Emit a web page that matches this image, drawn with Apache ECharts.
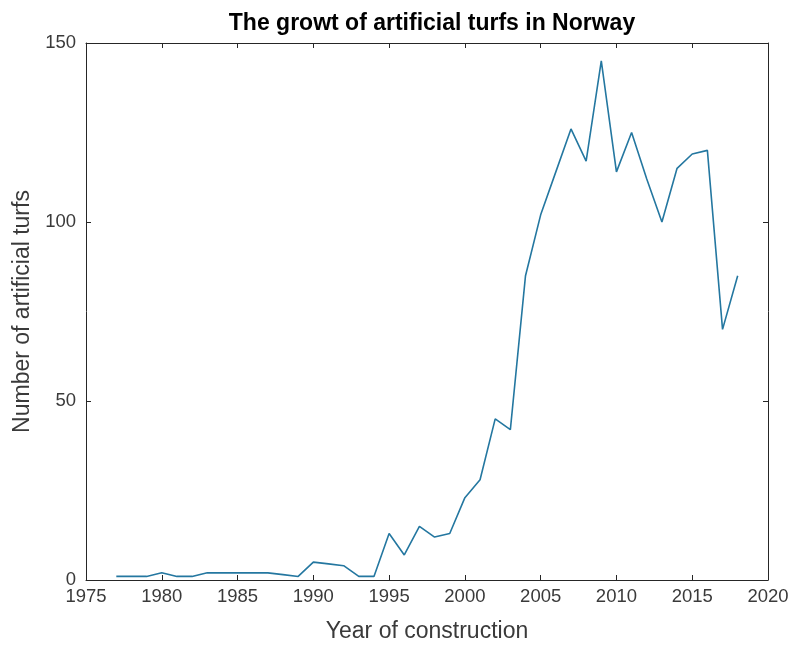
<!DOCTYPE html>
<html>
<head>
<meta charset="utf-8">
<script src="https://cdn.jsdelivr.net/npm/echarts@6/dist/echarts.min.js"></script>
<style>
  html, body { margin: 0; padding: 0; background: #fff; }
  #chart { width: 792px; height: 648px; }
</style>
</head>
<body>
<div id="chart"></div>
<script>
// Artificial turfs built per year in Norway
const years = [
  1977, 1978, 1979, 1980, 1981, 1982, 1983, 1984, 1985, 1986,
  1987, 1988, 1989, 1990, 1991, 1992, 1993, 1994, 1995, 1996,
  1997, 1998, 1999, 2000, 2001, 2002, 2003, 2004, 2005, 2006,
  2007, 2008, 2009, 2010, 2011, 2012, 2013, 2014, 2015, 2016,
  2017, 2018
];
const turfs = [
  1, 1, 1, 2, 1, 1, 2, 2, 2, 2,
  2, 1.5, 1, 5, 4.5, 4, 1, 1, 13, 7,
  15, 12, 13, 23, 28, 45, 42, 85, 102, 114,
  126, 117, 145, 114, 125, 112, 100, 115, 119, 120,
  70, 85
];
const xTicks = { min: 1975, max: 2020, step: 5 };
const yTicks = { min: 0, max: 150, step: 50 };

const font = '"Liberation Sans", Arial, Helvetica, sans-serif';
const frame = '#262626';
const labelColor = '#3a3a3a';

const chart = echarts.init(document.getElementById('chart'), null, { renderer: 'canvas' });

// Box-style axis: line plus inward ticks, used on all four sides
const boxAxis = (extra) => Object.assign({
  type: 'value',
  axisLine: { show: true, onZero: false, lineStyle: { color: frame, width: 1 } },
  axisTick: { show: true, inside: true, length: 5, lineStyle: { color: frame, width: 1 } },
  splitLine: { show: false }
}, extra);

chart.setOption({
  animation: false,
  backgroundColor: '#ffffff',
  title: {
    text: 'The growt of artificial turfs in Norway',
    left: 427,
    textAlign: 'center',
    top: 7,
    textStyle: { fontFamily: font, fontSize: 23, fontWeight: 'bold', color: '#000' }
  },
  grid: { left: 86, right: 24, top: 43, bottom: 67, containLabel: false },
  xAxis: [
    boxAxis({
      position: 'bottom',
      min: xTicks.min, max: xTicks.max, interval: xTicks.step,
      name: 'Year of construction',
      nameLocation: 'middle',
      nameGap: 40,
      nameTextStyle: { fontFamily: font, fontSize: 23, color: labelColor },
      axisLabel: {
        fontFamily: font, fontSize: 18.5, color: labelColor, margin: 7,
        formatter: (v) => String(v)
      }
    }),
    boxAxis({
      position: 'top',
      min: xTicks.min, max: xTicks.max, interval: xTicks.step,
      axisLabel: { show: false }
    })
  ],
  yAxis: [
    boxAxis({
      position: 'left',
      min: yTicks.min, max: yTicks.max, interval: yTicks.step,
      name: 'Number of artificial turfs',
      nameLocation: 'middle',
      nameGap: 50,
      nameTextStyle: { fontFamily: font, fontSize: 23, color: labelColor },
      axisLabel: { fontFamily: font, fontSize: 18.5, color: labelColor, margin: 10 }
    }),
    boxAxis({
      position: 'right',
      min: yTicks.min, max: yTicks.max, interval: yTicks.step,
      axisLabel: { show: false }
    })
  ],
  series: [{
    type: 'line',
    data: years.map((y, i) => [y, turfs[i]]),
    showSymbol: false,
    lineStyle: { color: '#2477a0', width: 1.6 },
    itemStyle: { color: '#2477a0' }
  }]
});
</script>
</body>
</html>
